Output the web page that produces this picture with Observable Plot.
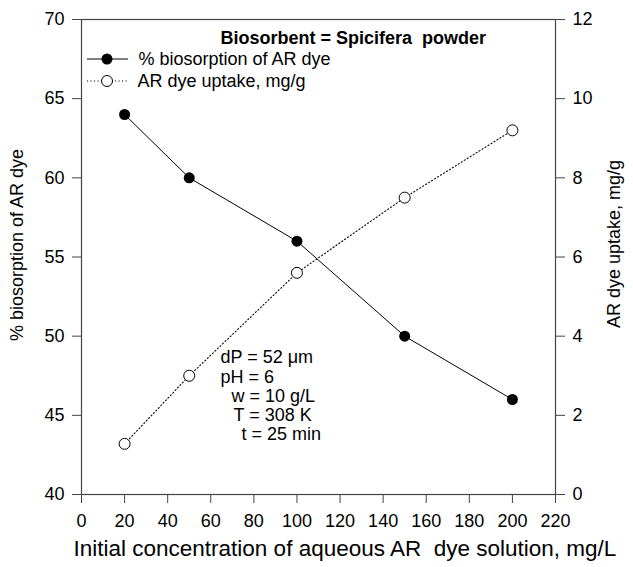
<!DOCTYPE html>
<html>
<head>
<meta charset="utf-8">
<script src="https://cdn.jsdelivr.net/npm/d3@7"></script>
<script src="https://cdn.jsdelivr.net/npm/@observablehq/plot@0.6"></script>
<style>
  body { margin: 0; background: #fff; }
  #chart svg { display: block; }
  #chart svg text { white-space: pre; }
</style>
</head>
<body>
<div id="chart"></div>
<script>
// Initial AR dye concentration (mg/L)
const concentration = [20, 50, 100, 150, 200];
// % biosorption of AR dye (left axis)
const biosorption = [64, 60, 56, 50, 46];
// AR dye uptake, mg/g (right axis)
const uptake = [1.28, 3.0, 5.6, 7.5, 9.2];

const xTicks = [0, 20, 40, 60, 80, 100, 120, 140, 160, 180, 200, 220];
const leftTicks = [40, 45, 50, 55, 60, 65, 70];
const rightTicks = [0, 2, 4, 6, 8, 10, 12];

const legendTitle = "Biosorbent = Spicifera  powder";
const seriesNames = ["% biosorption of AR dye", "AR dye uptake, mg/g"];
const conditions = ["dP = 52 \u03bcm", "pH = 6", "w = 10 g/L", "T = 308 K", "t = 25 min"];

const xTitle = "Initial concentration of aqueous AR  dye solution, mg/L";
const yLeftTitle = "% biosorption of AR dye";
const yRightTitle = "AR dye uptake, mg/g";

// right axis (0–12) is drawn on the left scale (40–70)
const leftDomain = [40, 70];
const rightDomain = [0, 12];
const toLeft = (q) => leftDomain[0] + (q - rightDomain[0]) * (leftDomain[1] - leftDomain[0]) / (rightDomain[1] - rightDomain[0]);
const toRight = (v) => rightDomain[0] + (v - leftDomain[0]) * (rightDomain[1] - rightDomain[0]) / (leftDomain[1] - leftDomain[0]);

const rows = concentration.map((c, i) => ({c, r: biosorption[i], q: uptake[i]}));

const axisColor = "#444";
const font = "'Liberation Sans', Arial, sans-serif";

// horizontal indents of the condition lines
const conditionIndent = [0, 0, 11, 13, 21];

// legend swatches (line + marker), positioned inside the frame
function legendSwatches(index, scales, values, dim) {
  const g = d3.create("svg:g");
  const x0 = dim.marginLeft + 6, x1 = dim.marginLeft + 47, xm = dim.marginLeft + 26;
  const rowsY = [dim.marginTop + 40, dim.marginTop + 62];
  g.append("line").attr("x1", x0).attr("x2", x1).attr("y1", rowsY[0]).attr("y2", rowsY[0])
    .attr("stroke", "black").attr("stroke-width", 1);
  g.append("circle").attr("cx", xm).attr("cy", rowsY[0]).attr("r", 5.5).attr("fill", "black");
  g.append("line").attr("x1", x0).attr("x2", x1).attr("y1", rowsY[1]).attr("y2", rowsY[1])
    .attr("stroke", "black").attr("stroke-width", 1.1).attr("stroke-dasharray", "1.1,2.4");
  g.append("circle").attr("cx", xm).attr("cy", rowsY[1]).attr("r", 5.5)
    .attr("fill", "white").attr("stroke", "black").attr("stroke-width", 1);
  return g.node();
}

const chart = Plot.plot({
  width: 633,
  height: 567,
  marginLeft: 81,
  marginRight: 78,
  marginTop: 19,
  marginBottom: 73,
  style: {fontFamily: font, fontSize: "18px", color: "black", background: "white"},
  x: {domain: [0, 220]},
  y: {domain: leftDomain},
  marks: [
    Plot.frame({stroke: axisColor, strokeWidth: 1.2}),
    Plot.axisX({ticks: xTicks, tickSize: 9, tickPadding: 11, label: null, stroke: axisColor, fill: "black"}),
    Plot.axisY({anchor: "left", ticks: leftTicks, tickSize: 9, tickPadding: 8, label: null, stroke: axisColor, fill: "black"}),
    Plot.axisY({
      anchor: "right", ticks: rightTicks.map(toLeft), tickSize: 9, tickPadding: 8, label: null,
      tickFormat: (v) => String(Math.round(toRight(v))),
      stroke: axisColor, fill: "black"
    }),
    // % biosorption: solid line, filled circles
    Plot.line(rows, {x: "c", y: "r", stroke: "black", strokeWidth: 1}),
    Plot.dot(rows, {x: "c", y: "r", r: 5.5, fill: "black"}),
    // dye uptake: dotted line, open circles on the right-axis scale
    Plot.line(rows, {x: "c", y: (d) => toLeft(d.q), stroke: "black", strokeWidth: 1.1, strokeDasharray: "1.1,2.4"}),
    Plot.dot(rows, {x: "c", y: (d) => toLeft(d.q), r: 5.5, fill: "white", stroke: "black", strokeWidth: 1}),
    // legend
    Plot.text([legendTitle], {frameAnchor: "top-left", dx: 139, dy: 12, lineAnchor: "top", textAnchor: "start", fontWeight: "bold", fill: "black"}),
    Plot.text([seriesNames[0]], {frameAnchor: "top-left", dx: 57, dy: 40, lineAnchor: "middle", textAnchor: "start", fill: "black"}),
    Plot.text([seriesNames[1]], {frameAnchor: "top-left", dx: 56, dy: 62, lineAnchor: "middle", textAnchor: "start", fill: "black"}),
    legendSwatches,
    // experimental conditions
    ...conditions.map((t, i) => Plot.text([t], {
      frameAnchor: "top-left", dx: 139 + conditionIndent[i], dy: 331 + i * 19.3,
      lineAnchor: "top", textAnchor: "start", fill: "black"
    })),
    // axis titles
    Plot.text([xTitle], {frameAnchor: "bottom-left", dx: -8, dy: 54, lineAnchor: "middle", textAnchor: "start", fontSize: 22.5, fill: "black"}),
    Plot.text([yLeftTitle], {frameAnchor: "left", dx: -64, dy: -12, rotate: -90, lineAnchor: "middle", textAnchor: "middle", fill: "black"}),
    Plot.text([yRightTitle], {frameAnchor: "right", dx: 59, dy: -13, rotate: -90, lineAnchor: "middle", textAnchor: "middle", fill: "black"})
  ]
});

document.getElementById("chart").appendChild(chart);
</script>
</body>
</html>
